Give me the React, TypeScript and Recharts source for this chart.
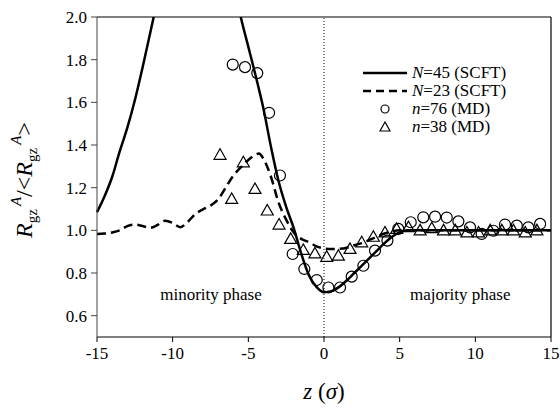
import { ComposedChart, Line, Scatter, XAxis, YAxis, ReferenceLine, ReferenceDot } from 'recharts';

// N=45 (SCFT), solid line
const zSolid = [-15, -14.5, -14, -13.5, -13, -12.5, -12, -11.5, -11, -10, -9, -8.5, -8, -7, -6, -5.5, -5, -4.5, -4, -3.5, -3, -2.5, -2, -1.5, -1, -0.5, 0, 0.5, 1, 1.5, 2, 2.5, 3, 3.5, 4, 4.5, 5, 5.5, 6, 7, 8, 9, 10, 11, 12, 13, 14, 15];
const rSolid = [1.085, 1.16, 1.25, 1.37, 1.48, 1.61, 1.76, 1.92, 2.08, 2.35, 2.48, 2.5, 2.49, 2.4, 2.17, 2.0, 1.86, 1.72, 1.57, 1.39, 1.23, 1.11, 1.01, 0.89, 0.79, 0.735, 0.71, 0.715, 0.735, 0.765, 0.8, 0.835, 0.87, 0.905, 0.94, 0.97, 0.99, 1.0, 1.0, 1.0, 1.0, 1.0, 1.0, 1.0, 1.0, 1.0, 1.0, 1.0];

// N=23 (SCFT), dashed line
const zDashed = [-15, -14.5, -14, -13.5, -13, -12.5, -12, -11.5, -11, -10.5, -10, -9.5, -9, -8.5, -8, -7.5, -7, -6.5, -6, -5.5, -5, -4.5, -4.3, -4, -3.5, -3, -2.5, -2, -1.5, -1, -0.5, 0, 0.5, 1, 1.5, 2, 2.5, 3, 3.5, 4, 4.5, 5, 6, 8, 10, 12, 15];
const rDashed = [0.983, 0.985, 0.99, 1.0, 1.02, 1.027, 1.02, 1.012, 1.025, 1.045, 1.035, 1.015, 1.04, 1.077, 1.098, 1.116, 1.145, 1.2, 1.255, 1.295, 1.33, 1.355, 1.36, 1.335, 1.25, 1.13, 1.05, 0.99, 0.96, 0.945, 0.925, 0.915, 0.912, 0.913, 0.918, 0.93, 0.94, 0.955, 0.97, 0.985, 0.995, 1.0, 1.0, 1.0, 1.0, 1.0, 1.0];

// n=76 (MD), circles
const zCircle = [-6.03, -5.22, -4.41, -3.63, -2.91, -2.07, -1.3, -0.48, 0.29, 1.06, 1.83, 2.6, 3.37, 4.19, 4.91, 5.73, 6.56, 7.34, 8.11, 8.88, 9.65, 10.42, 11.19, 11.96, 12.74, 13.5, 14.28];
const rCircle = [1.777, 1.765, 1.737, 1.551, 1.257, 0.889, 0.819, 0.767, 0.732, 0.732, 0.783, 0.834, 0.905, 0.952, 1.007, 1.038, 1.061, 1.064, 1.06, 1.042, 1.014, 0.983, 0.998, 1.027, 1.022, 1.014, 1.03];

// n=38 (MD), triangles
const zTriangle = [-6.87, -6.1, -5.33, -4.56, -3.75, -2.97, -2.2, -1.37, -0.6, 0.18, 0.95, 1.72, 2.49, 3.26, 4.03, 4.8, 5.58, 6.35, 7.12, 7.9, 8.67, 9.44, 10.21, 10.98, 11.75, 12.52, 13.3, 14.07];
const rTriangle = [1.354, 1.147, 1.319, 1.194, 1.093, 1.027, 0.96, 0.908, 0.892, 0.876, 0.881, 0.913, 0.944, 0.97, 0.99, 1.007, 1.015, 1.0, 1.01, 1.0, 1.0, 0.99, 0.99, 1.0, 1.0, 1.0, 0.99, 1.0];

const xTicks = [-15, -10, -5, 0, 5, 10, 15];
const yTicks = [0.6, 0.8, 1.0, 1.2, 1.4, 1.6, 1.8, 2.0];

const toPoints = (xs: number[], ys: number[]) => xs.map((x, i) => ({ x, y: ys[i] }));

const FONT = "'Liberation Serif', 'Times New Roman', serif";

const CircleMark = (p: any) => <circle cx={p.cx} cy={p.cy} r={5.5} fill="#fff" fillOpacity={0} stroke="#000" strokeWidth={1.2} />;
const TriangleMark = (p: any) => {
  const s = 6;
  return (
    <polygon
      points={`${p.cx},${p.cy - s} ${p.cx - s},${p.cy + s * 0.75} ${p.cx + s},${p.cy + s * 0.75}`}
      fill="none"
      stroke="#000"
      strokeWidth={1.2}
    />
  );
};

const YLabel = () => (
  <text transform="translate(32,180) rotate(-90)" textAnchor="middle" fontFamily={FONT} fontSize={24} fill="#000">
    <tspan fontStyle="italic">R</tspan>
    <tspan fontSize={15} dy={5}>gz</tspan>
    <tspan fontSize={15} fontStyle="italic" dy={-16} dx={3}>A</tspan>
    <tspan dy={11}>/&lt;</tspan>
    <tspan fontStyle="italic">R</tspan>
    <tspan fontSize={15} dy={5}>gz</tspan>
    <tspan fontSize={15} fontStyle="italic" dy={-16} dx={3}>A</tspan>
    <tspan dy={11}>&gt;</tspan>
  </text>
);

const XLabel = () => (
  <text x={324} y={399} textAnchor="middle" fontFamily={FONT} fontSize={23} fill="#000">
    <tspan fontStyle="italic">z</tspan>
    <tspan> (</tspan>
    <tspan fontStyle="italic">σ</tspan>
    <tspan>)</tspan>
  </text>
);

const legendRows = [
  { kind: 'solid', a: 'N', b: '=45 (SCFT)' },
  { kind: 'dashed', a: 'N', b: '=23 (SCFT)' },
  { kind: 'circle', a: 'n', b: '=76 (MD)' },
  { kind: 'triangle', a: 'n', b: '=38 (MD)' },
];

function LegendBox() {
  return (
    <svg width={195} height={80} style={{ position: 'absolute', left: 355, top: 63 }}>
      {legendRows.map((r, i) => {
        const y = 10 + i * 18;
        return (
          <g key={i}>
            {r.kind === 'solid' && <line x1={8} x2={52} y1={y} y2={y} stroke="#000" strokeWidth={2.5} />}
            {r.kind === 'dashed' && <line x1={8} x2={52} y1={y} y2={y} stroke="#000" strokeWidth={2.5} strokeDasharray="8 5" />}
            {r.kind === 'circle' && <circle cx={30} cy={y} r={4} fill="none" stroke="#000" strokeWidth={1.2} />}
            {r.kind === 'triangle' && <polygon points={`30,${y - 5} 25,${y + 4} 35,${y + 4}`} fill="none" stroke="#000" strokeWidth={1.2} />}
            <text x={57} y={y + 5} fontFamily={FONT} fontSize={17} fill="#000">
              <tspan fontStyle="italic">{r.a}</tspan>
              <tspan>{r.b}</tspan>
            </text>
          </g>
        );
      })}
    </svg>
  );
}

export default function App() {
  const tickStyle = { fontFamily: FONT, fontSize: 17, fill: '#000' };
  return (
    <div style={{ position: 'absolute', left: 0, top: 0, width: 560, height: 410, background: '#fff' }}>
      <ComposedChart width={560} height={410} margin={{ top: 17, right: 9, left: 0, bottom: 0 }}>
        <XAxis
          dataKey="x"
          type="number"
          domain={[-15, 15]}
          ticks={xTicks}
          height={73}
          stroke="#000"
          tick={tickStyle}
          tickSize={5}
          tickMargin={5}
          label={<XLabel />}
        />
        <YAxis
          type="number"
          domain={[0.5, 2]}
          ticks={yTicks}
          allowDataOverflow
          width={97}
          stroke="#444"
          tick={tickStyle}
          tickSize={6}
          tickMargin={4}
          tickFormatter={(v: number) => v.toFixed(1)}
          label={<YLabel />}
        />
        <ReferenceLine y={2} stroke="#000" strokeWidth={1.2} />
        <ReferenceLine x={15} stroke="#000" strokeWidth={1.2} />
        <ReferenceLine x={0} stroke="#000" strokeDasharray="1 2" />
        <ReferenceDot
          x={-7.47}
          y={0.7}
          r={1}
          fill="none"
          stroke="none"
          label={{ value: 'minority phase', position: 'center', fontFamily: FONT, fontSize: 17, fill: '#000' }}
        />
        <ReferenceDot
          x={9}
          y={0.7}
          r={1}
          fill="none"
          stroke="none"
          label={{ value: 'majority phase', position: 'center', fontFamily: FONT, fontSize: 17, fill: '#000' }}
        />
        <Line data={toPoints(zSolid, rSolid)} dataKey="y" type="monotone" stroke="#000" strokeWidth={2.5} dot={false} isAnimationActive={false} />
        <Line data={toPoints(zDashed, rDashed)} dataKey="y" type="monotone" stroke="#000" strokeWidth={2.5} strokeDasharray="9 5" dot={false} isAnimationActive={false} />
        <Scatter data={toPoints(zCircle, rCircle)} dataKey="y" shape={CircleMark} isAnimationActive={false} />
        <Scatter data={toPoints(zTriangle, rTriangle)} dataKey="y" shape={TriangleMark} isAnimationActive={false} />
      </ComposedChart>
      <LegendBox />
    </div>
  );
}
